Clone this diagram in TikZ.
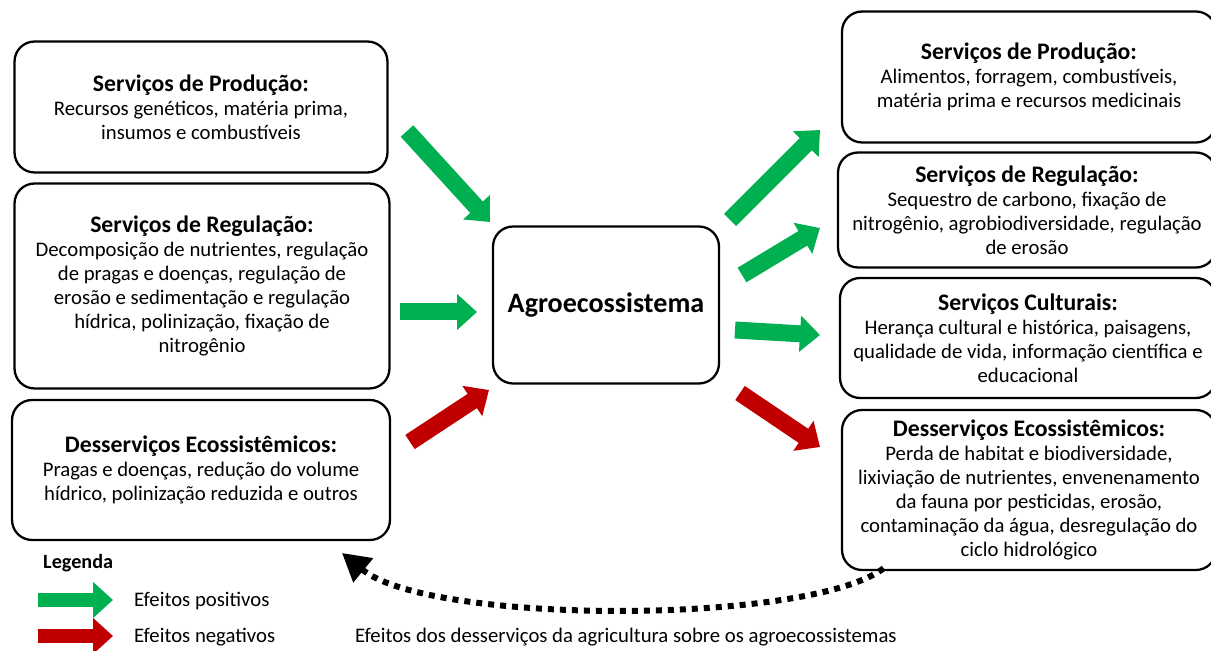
\documentclass[tikz,border=0pt]{standalone}
\usepackage{fontspec}
\setmainfont{Carlito}
\usetikzlibrary{arrows.meta}

\definecolor{posgreen}{HTML}{00B050}
\definecolor{negred}{HTML}{C00000}

\newcommand{\BoxTitle}[1]{{\fontsize{13.5}{15}\selectfont\bfseries #1}}

\begin{document}
\begin{tikzpicture}[x=0.02cm, y=-0.02cm,
                    every node/.style = {font = \fontsize{11.8}{13.6}\selectfont}]
    \tikzset{BoxStyle/.style = {draw,
                                rounded corners = 0.4cm,
                                line width      = 1.3pt,
                                align           = center,
                                inner sep       = 0pt}}
    \tikzset{PosStyle/.style = {draw         = posgreen,
                                line width   = 0.34cm,
                                -{Triangle[width = 0.7cm, length = 0.4cm]}}}
    \tikzset{NegStyle/.style = {PosStyle,
                                draw = negred}}
    \tikzset{FeedStyle/.style = {line width = 0.12cm,
                                 dash pattern = on 0.12cm off 0.12cm,
                                 {Triangle[width = 0.6cm, length = 0.55cm]}-}}
    \useasboundingbox (0,0) rectangle (1211,651);

    % left boxes
    \node[BoxStyle, minimum width = 7.46cm, minimum height = 2.62cm] (prodL) at (201,107)
        {\BoxTitle{Serviços de Produção:}\\
         Recursos genéticos, matéria prima,\\
         insumos e combustíveis};
    \node[BoxStyle, minimum width = 7.5cm, minimum height = 4.1cm] (regL) at (202,286)
        {\BoxTitle{Serviços de Regulação:}\\
         Decomposição de nutrientes, regulação\\
         de pragas e doenças, regulação de\\
         erosão e sedimentação e regulação\\
         hídrica, polinização, fixação de\\
         nitrogênio};
    \node[BoxStyle, minimum width = 7.56cm, minimum height = 2.8cm] (desL) at (201,470)
        {\BoxTitle{Desserviços Ecossistêmicos:}\\
         Pragas e doenças, redução do volume\\
         hídrico, polinização reduzida e outros};

    % center
    \node[BoxStyle, minimum width = 4.52cm, minimum height = 3.14cm] (agro) at (606,305)
        {\fontsize{16}{19}\selectfont\bfseries Agroecossistema};

    % right boxes
    \node[BoxStyle, minimum width = 7.48cm, minimum height = 2.62cm] (prodR) at (1029,77)
        {\BoxTitle{Serviços de Produção:}\\
         Alimentos, forragem, combustíveis,\\
         matéria prima e recursos medicinais};
    \node[BoxStyle, minimum width = 7.56cm, minimum height = 2.3cm] (regR) at (1027,210)
        {\BoxTitle{Serviços de Regulação:}\\
         Sequestro de carbono, fixação de\\
         nitrogênio, agrobiodiversidade, regulação\\
         de erosão};
    \node[BoxStyle, minimum width = 7.52cm, minimum height = 2.4cm] (cultR) at (1028,338)
        {\BoxTitle{Serviços Culturais:}\\
         Herança cultural e histórica, paisagens,\\
         qualidade de vida, informação científica e\\
         educacional};
    \node[BoxStyle, minimum width = 7.48cm, minimum height = 3.2cm] (desR) at (1029,490)
        {\BoxTitle{Desserviços Ecossistêmicos:}\\
         Perda de habitat e biodiversidade,\\
         lixiviação de nutrientes, envenenamento\\
         da fauna por pesticidas, erosão,\\
         contaminação da água, desregulação do\\
         ciclo hidrológico};

    % arrow ends
    \coordinate (inA)  at (407,131);  \coordinate (inAt) at (490,222);
    \coordinate (inB)  at (400,312);  \coordinate (inBt) at (477,312);
    \coordinate (inC)  at (410,442);  \coordinate (inCt) at (489,390);
    \coordinate (outA) at (730,220);  \coordinate (outAt) at (820,130);
    \coordinate (outB) at (742,275);  \coordinate (outBt) at (820,228);
    \coordinate (outC) at (735,330);  \coordinate (outCt) at (820,335);
    \coordinate (outD) at (740,393);  \coordinate (outDt) at (820,447);

    \draw[PosStyle] (inA) -- (inAt);
    \draw[PosStyle] (inB) -- (inBt);
    \draw[NegStyle] (inC) -- (inCt);
    \draw[PosStyle] (outA) -- (outAt);
    \draw[PosStyle] (outB) -- (outBt);
    \draw[PosStyle] (outC) -- (outCt);
    \draw[NegStyle] (outD) -- (outDt);

    % feedback
    \coordinate (fbEnd)   at (342,553);
    \coordinate (fbStart) at (884,568);
    \draw[FeedStyle] (fbEnd) .. controls (430,625) and (810,625) .. (fbStart);
    \node[anchor = base west] (fbText) at (349,643)
        {Efeitos dos desserviços da agricultura sobre os agroecossistemas};

    % legend
    \node[anchor = west, font = \fontsize{11.5}{13}\selectfont\bfseries] (legTitle) at (37,563) {Legenda};
    \coordinate (legPos)  at (38,600);  \coordinate (legPosT) at (113,600);
    \coordinate (legNeg)  at (38,636);  \coordinate (legNegT) at (113,636);
    \draw[PosStyle, line width = 0.28cm] (legPos) -- (legPosT);
    \draw[NegStyle, line width = 0.28cm] (legNeg) -- (legNegT);
    \node[anchor = west] (legPosL) at (128,601) {Efeitos positivos};
    \node[anchor = west] (legNegL) at (128,637) {Efeitos negativos};
\end{tikzpicture}
\end{document}
